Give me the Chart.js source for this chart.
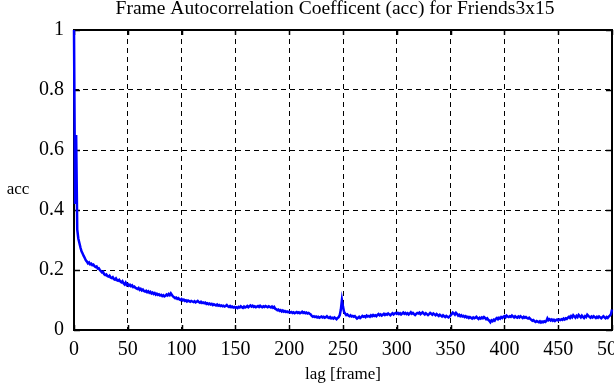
<!DOCTYPE html>
<html>
<head>
<meta charset="utf-8">
<script src="https://cdn.jsdelivr.net/npm/chart.js@4/dist/chart.umd.min.js"></script>
<style>
  html, body { margin: 0; padding: 0; background: #fff; overflow: hidden; }
  #chart { display: block; }
</style>
</head>
<body>
<canvas id="chart" width="640" height="385"></canvas>
<script>
const title = 'Frame Autocorrelation Coefficent (acc) for Friends3x15';
const xLabel = 'lag [frame]';
const yLabel = 'acc';
const xTicks = [0, 50, 100, 150, 200, 250, 300, 350, 400, 450, 500];
const yTicks = [0, 0.2, 0.4, 0.6, 0.8, 1];

// acc value for every lag 0..500
const acc = [
  1.000, 0.420, 0.650, 0.335, 0.305, 0.290, 0.275, 0.262, 0.255, 0.247,
  0.240, 0.232, 0.228, 0.222, 0.225, 0.219, 0.221, 0.216, 0.218, 0.213,
  0.210, 0.212, 0.205, 0.206, 0.200, 0.196, 0.192, 0.194, 0.186, 0.183,
  0.185, 0.180, 0.178, 0.181, 0.175, 0.173, 0.176, 0.170, 0.168, 0.172,
  0.166, 0.164, 0.167, 0.162, 0.159, 0.163, 0.156, 0.152, 0.158, 0.150,
  0.153, 0.148, 0.151, 0.146, 0.149, 0.143, 0.145, 0.141, 0.139, 0.137,
  0.140, 0.134, 0.137, 0.132, 0.135, 0.130, 0.128, 0.131, 0.126, 0.129,
  0.124, 0.127, 0.122, 0.125, 0.120, 0.123, 0.118, 0.121, 0.117, 0.119,
  0.115, 0.117, 0.113, 0.116, 0.112, 0.114, 0.118, 0.115, 0.120, 0.116,
  0.122, 0.117, 0.112, 0.109, 0.106, 0.108, 0.104, 0.106, 0.102, 0.100,
  0.103, 0.099, 0.101, 0.097, 0.099, 0.095, 0.098, 0.096, 0.094, 0.097,
  0.095, 0.093, 0.096, 0.092, 0.094, 0.097, 0.093, 0.091, 0.094, 0.090,
  0.092, 0.089, 0.091, 0.087, 0.089, 0.086, 0.088, 0.085, 0.087, 0.083,
  0.086, 0.084, 0.082, 0.085, 0.081, 0.083, 0.080, 0.082, 0.079, 0.081,
  0.078, 0.080, 0.083, 0.079, 0.077, 0.080, 0.076, 0.078, 0.075, 0.077,
  0.074, 0.076, 0.073, 0.077, 0.075, 0.079, 0.076, 0.074, 0.078, 0.075,
  0.077, 0.080, 0.076, 0.079, 0.082, 0.078, 0.081, 0.077, 0.079, 0.076,
  0.078, 0.080, 0.077, 0.081, 0.078, 0.076, 0.079, 0.077, 0.080, 0.078,
  0.076, 0.079, 0.077, 0.075, 0.078, 0.074, 0.077, 0.071, 0.069, 0.066,
  0.068, 0.064, 0.066, 0.062, 0.065, 0.061, 0.063, 0.060, 0.062, 0.059,
  0.061, 0.058, 0.060, 0.057, 0.059, 0.056, 0.058, 0.060, 0.057, 0.059,
  0.056, 0.058, 0.061, 0.057, 0.059, 0.056, 0.058, 0.055, 0.057, 0.054,
  0.052, 0.047, 0.044, 0.046, 0.043, 0.045, 0.042, 0.044, 0.041, 0.043,
  0.045, 0.042, 0.044, 0.041, 0.043, 0.046, 0.042, 0.040, 0.043, 0.039,
  0.041, 0.038, 0.042, 0.039, 0.036, 0.040, 0.043, 0.050, 0.068, 0.100,
  0.078, 0.060, 0.055, 0.050, 0.052, 0.048, 0.046, 0.049, 0.045, 0.047,
  0.044, 0.046, 0.042, 0.038, 0.041, 0.044, 0.040, 0.043, 0.047, 0.044,
  0.046, 0.043, 0.048, 0.045, 0.047, 0.044, 0.049, 0.046, 0.050, 0.047,
  0.049, 0.046, 0.050, 0.053, 0.049, 0.052, 0.048, 0.051, 0.054, 0.050,
  0.053, 0.051, 0.055, 0.052, 0.049, 0.053, 0.056, 0.052, 0.055, 0.057,
  0.054, 0.057, 0.053, 0.056, 0.052, 0.055, 0.058, 0.054, 0.057, 0.053,
  0.056, 0.052, 0.055, 0.059, 0.054, 0.057, 0.053, 0.050, 0.054, 0.057,
  0.055, 0.058, 0.053, 0.056, 0.059, 0.055, 0.052, 0.056, 0.053, 0.050,
  0.053, 0.057, 0.054, 0.051, 0.055, 0.052, 0.049, 0.053, 0.050, 0.047,
  0.051, 0.048, 0.045, 0.049, 0.046, 0.043, 0.047, 0.044, 0.042, 0.045,
  0.049, 0.053, 0.058, 0.055, 0.051, 0.057, 0.053, 0.048, 0.051, 0.046,
  0.049, 0.045, 0.047, 0.043, 0.046, 0.042, 0.044, 0.040, 0.043, 0.041,
  0.038, 0.042, 0.039, 0.041, 0.044, 0.040, 0.037, 0.041, 0.038, 0.042,
  0.039, 0.043, 0.040, 0.036, 0.039, 0.034, 0.031, 0.026, 0.032, 0.029,
  0.034, 0.031, 0.037, 0.040, 0.036, 0.041, 0.038, 0.043, 0.040, 0.044,
  0.046, 0.042, 0.048, 0.045, 0.043, 0.046, 0.044, 0.048, 0.045, 0.042,
  0.046, 0.043, 0.041, 0.045, 0.042, 0.046, 0.043, 0.040, 0.044, 0.041,
  0.043, 0.040, 0.038, 0.041, 0.037, 0.034, 0.031, 0.033, 0.029, 0.027,
  0.030, 0.028, 0.026, 0.029, 0.025, 0.028, 0.026, 0.029, 0.027, 0.030,
  0.039, 0.033, 0.036, 0.032, 0.035, 0.031, 0.034, 0.030, 0.033, 0.035,
  0.032, 0.035, 0.033, 0.036, 0.034, 0.038, 0.035, 0.039, 0.037, 0.041,
  0.044, 0.040, 0.046, 0.042, 0.049, 0.045, 0.041, 0.047, 0.043, 0.050,
  0.046, 0.042, 0.048, 0.044, 0.040, 0.046, 0.043, 0.051, 0.047, 0.044,
  0.041, 0.045, 0.042, 0.046, 0.043, 0.040, 0.044, 0.041, 0.045, 0.042,
  0.039, 0.043, 0.046, 0.042, 0.039, 0.043, 0.040, 0.045, 0.048, 0.052,
  0.068
];
const lags = acc.map((_, i) => i);

const FONT = '"Liberation Serif", "DejaVu Serif", serif';

// gnuplot style: full box with inward ticks under the curve, title and horizontal y label
const frame = {
  id: 'frame',
  beforeDatasetsDraw(chart) {
    const { ctx, chartArea: a, scales: { x, y } } = chart;
    ctx.save();
    ctx.strokeStyle = '#000';
    ctx.lineWidth = 1.5;
    ctx.beginPath();
    xTicks.forEach(v => {
      const px = Math.round(x.getPixelForValue(v)) + 0.5;
      ctx.moveTo(px, a.bottom); ctx.lineTo(px, a.bottom - 5);
      ctx.moveTo(px, a.top); ctx.lineTo(px, a.top + 5);
    });
    yTicks.forEach(v => {
      const py = Math.round(y.getPixelForValue(v)) + 0.5;
      ctx.moveTo(a.left, py); ctx.lineTo(a.left + 6, py);
      ctx.moveTo(a.right, py); ctx.lineTo(a.right - 6, py);
    });
    ctx.stroke();
    ctx.lineWidth = 2;
    ctx.strokeRect(a.left, a.top, a.right - a.left, a.bottom - a.top);
    ctx.restore();
  },
  afterDraw(chart) {
    const { ctx } = chart;
    ctx.save();
    ctx.fillStyle = '#000';
    ctx.textBaseline = 'middle';
    ctx.textAlign = 'center';
    ctx.font = '19.5px ' + FONT;
    ctx.fillText(title, 335, 9);
    ctx.font = '17px ' + FONT;
    ctx.fillText(yLabel, 18, 190);
    ctx.restore();
  }
};

new Chart(document.getElementById('chart'), {
  type: 'line',
  data: {
    labels: lags,
    datasets: [{
      data: acc,
      borderColor: '#0000ff',
      borderWidth: 2.5,
      pointRadius: 0,
      fill: false,
      tension: 0,
      clip: false
    }]
  },
  options: {
    responsive: false,
    animation: false,
    layout: { padding: { left: 0, top: 30, right: 28, bottom: 0 } },
    plugins: { legend: { display: false }, tooltip: { enabled: false } },
    scales: {
      x: {
        type: 'linear',
        min: 0,
        max: 500,
        afterBuildTicks: s => { s.ticks = xTicks.map(v => ({ value: v })); },
        afterFit: s => { s.height = 55; },
        grid: { color: '#000', lineWidth: 1, drawTicks: false },
        border: { display: false, dash: [5, 4] },
        ticks: { color: '#000', padding: 8, maxRotation: 0, font: { family: FONT, size: 20 } },
        title: { display: true, text: xLabel, color: '#000', padding: { top: 0, bottom: 0 }, font: { family: FONT, size: 17 } }
      },
      y: {
        min: 0,
        max: 1,
        afterBuildTicks: s => { s.ticks = yTicks.map(v => ({ value: v })); },
        afterFit: s => { s.width = 74; },
        grid: { color: '#000', lineWidth: 1, drawTicks: false },
        border: { display: false, dash: [5, 4] },
        ticks: {
          color: '#000',
          padding: 10,
          font: { family: FONT, size: 20 },
          callback: v => (v === 0 || v === 1 ? String(v) : v.toFixed(1))
        }
      }
    }
  },
  plugins: [frame]
});
</script>
</body>
</html>
